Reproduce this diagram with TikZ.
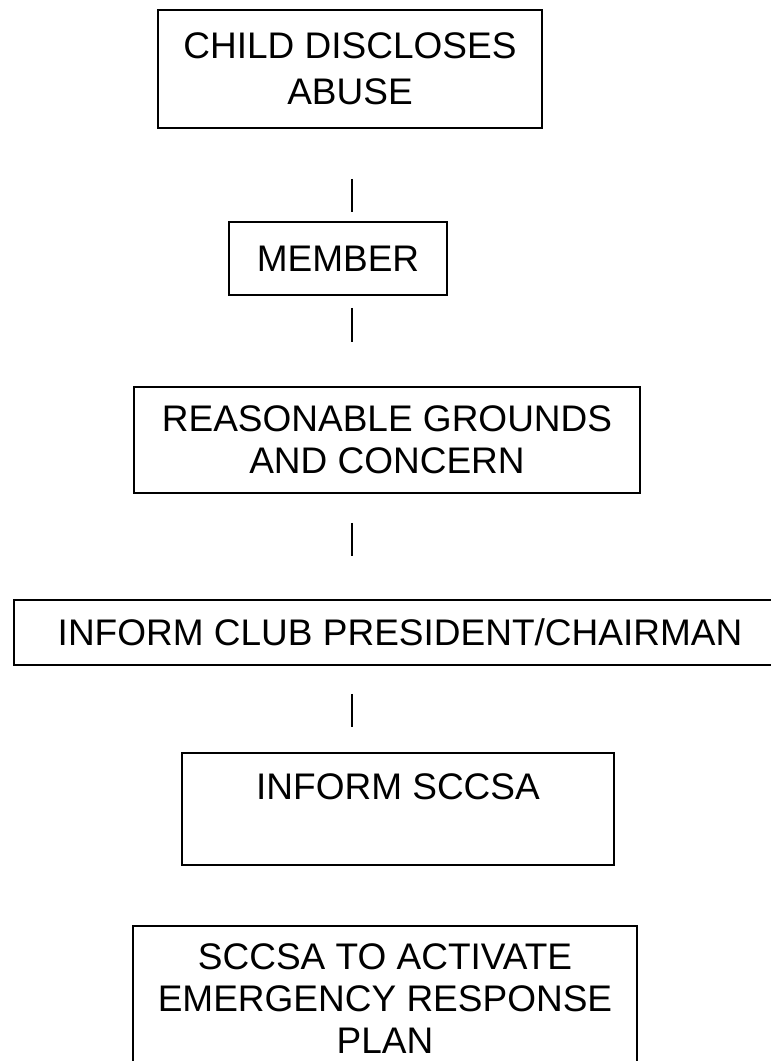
\documentclass[tikz,border=0pt]{standalone}
\usepackage{fontspec}
\setmainfont{Liberation Sans}
\usetikzlibrary{positioning}

\begin{document}
\begin{tikzpicture}[x=1pt, y=-1pt,
    % Box styles
    stage/.style={draw=black, line width=1.8pt, align=center, inner sep=0pt,
        font=\fontsize{37}{42}\selectfont},
    % Short bars between the boxes
    bar/.style={draw=black, line width=1.8pt},
]
\useasboundingbox (0,0) rectangle (771,1061);
\clip (0,0) rectangle (771,1061);

% Column that carries the bars
\coordinate (spine) at (352, 0);

% Stages of the procedure
\node[stage, minimum width=384pt, minimum height=118pt, font=\fontsize{37}{46}\selectfont] (child) at (350, 69) {CHILD DISCLOSES\\ABUSE};
\node[stage, minimum width=218pt, minimum height=73pt] (member) at (338, 258.5) {MEMBER};
\node[stage, minimum width=506pt, minimum height=106pt] (grounds) at (387, 440) {REASONABLE GROUNDS\\AND CONCERN};
\node[stage, minimum width=772pt, minimum height=65pt] (club) at (400, 632.5) {INFORM CLUB PRESIDENT/CHAIRMAN};
\node[stage, minimum width=432pt, minimum height=112pt, text height=27pt, text depth=46.5pt] (sccsa) at (398, 809) {INFORM SCCSA};
\node[stage, minimum width=504pt, minimum height=146pt] (plan) at (385, 999) {SCCSA TO ACTIVATE\\EMERGENCY RESPONSE\\PLAN};

% Bars (they stop short of the boxes)
\draw[bar, shorten <=50pt, shorten >=9pt] (child.south -| spine) -- (member.north -| spine);
\draw[bar, shorten <=12pt, shorten >=44pt] (member.south -| spine) -- (grounds.north -| spine);
\draw[bar, shorten <=29pt, shorten >=43pt] (grounds.south -| spine) -- (club.north -| spine);
\draw[bar, shorten <=28pt, shorten >=25pt] (club.south -| spine) -- (sccsa.north -| spine);

\end{tikzpicture}
\end{document}
